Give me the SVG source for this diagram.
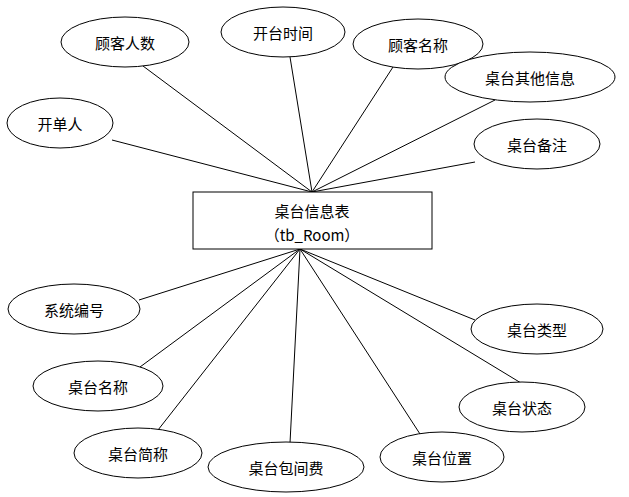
<svg xmlns="http://www.w3.org/2000/svg" width="629" height="497" viewBox="0 0 629 497">
<style>
ellipse,rect{fill:#fff;stroke:#000;stroke-width:1}
line{stroke:#000;stroke-width:1}
text{font-family:"Noto Sans CJK SC","Liberation Sans",sans-serif;font-size:15px;text-anchor:middle;dominant-baseline:central;fill:#000}
</style>
<rect width="629" height="497" fill="#fff" style="stroke:none"/>
<g id="connectors">
<line x1="312" y1="192" x2="143" y2="66"/>
<line x1="312" y1="192" x2="290" y2="57"/>
<line x1="312" y1="192" x2="393" y2="67"/>
<line x1="312" y1="192" x2="495" y2="100"/>
<line x1="312" y1="192" x2="112" y2="140"/>
<line x1="312" y1="192" x2="475" y2="162"/>
<line x1="300" y1="249" x2="139" y2="300"/>
<line x1="300" y1="249" x2="140" y2="367"/>
<line x1="300" y1="249" x2="158" y2="430"/>
<line x1="300" y1="249" x2="290" y2="443"/>
<line x1="300" y1="249" x2="420" y2="434"/>
<line x1="300" y1="249" x2="521" y2="383"/>
<line x1="300" y1="249" x2="475" y2="320"/>
</g>
<g id="main"><rect x="193" y="192" width="239" height="57"/><text x="312" y="210">桌台信息表</text><text x="312" y="234">（tb_Room）</text></g>
<g id="n1"><ellipse cx="125" cy="42" rx="64" ry="25"/><text x="125" y="42">顾客人数</text></g>
<g id="n2"><ellipse cx="283" cy="32" rx="62" ry="25"/><text x="283" y="32">开台时间</text></g>
<g id="n3"><ellipse cx="418" cy="44" rx="65" ry="25"/><text x="418" y="44">顾客名称</text></g>
<g id="n4"><ellipse cx="530" cy="77" rx="85" ry="25"/><text x="530" y="77">桌台其他信息</text></g>
<g id="n5"><ellipse cx="60" cy="123" rx="53" ry="25"/><text x="60" y="123">开单人</text></g>
<g id="n6"><ellipse cx="537" cy="144" rx="63" ry="25"/><text x="537" y="144">桌台备注</text></g>
<g id="n7"><ellipse cx="74" cy="309" rx="66" ry="25"/><text x="74" y="309">系统编号</text></g>
<g id="n8"><ellipse cx="537" cy="329" rx="66" ry="25"/><text x="537" y="329">桌台类型</text></g>
<g id="n9"><ellipse cx="98" cy="386" rx="65" ry="25"/><text x="98" y="386">桌台名称</text></g>
<g id="n10"><ellipse cx="522" cy="407" rx="63" ry="25"/><text x="522" y="407">桌台状态</text></g>
<g id="n11"><ellipse cx="138" cy="453" rx="64" ry="25"/><text x="138" y="453">桌台简称</text></g>
<g id="n12"><ellipse cx="286" cy="467" rx="78" ry="25"/><text x="286" y="467">桌台包间费</text></g>
<g id="n13"><ellipse cx="442" cy="457" rx="62" ry="25"/><text x="442" y="457">桌台位置</text></g>
</svg>
